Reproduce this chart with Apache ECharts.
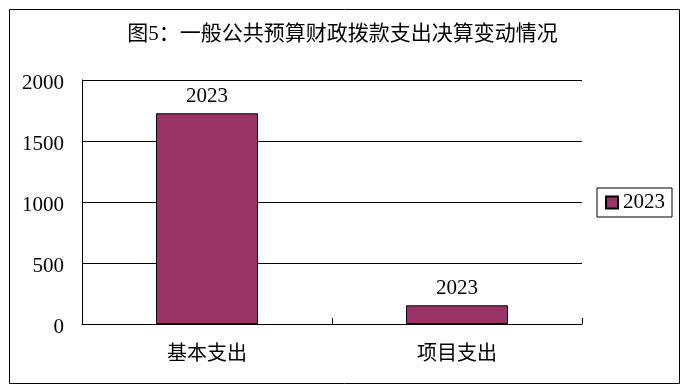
<!DOCTYPE html>
<html><head><meta charset="utf-8">
<script src="https://cdn.jsdelivr.net/npm/echarts@6/dist/echarts.min.js"></script>
<style>html,body{margin:0;padding:0;background:#fff}#c{width:685px;height:389px}</style>
</head><body><div id="c"></div>
<script>
const titleText = '图5：一般公共预算财政拨款支出决算变动情况';
const categories = ['基本支出', '项目支出'];
const seriesName = '2023';
const values = [1727, 153];
const yTicks = [0, 500, 1000, 1500, 2000];

const serif = '"Liberation Serif", "Noto Sans CJK SC", serif';
const chart = echarts.init(document.getElementById('c'), null, {renderer: 'canvas'});
chart.setOption({
  animation: false,
  backgroundColor: '#fff',
  title: {
    text: titleText, left: 'center', top: 19,
    textStyle: {fontFamily: serif, fontSize: 21, fontWeight: 'normal', color: '#000'}
  },
  graphic: [{
    type: 'rect', left: 7, top: 7, silent: true,
    shape: {width: 670, height: 374},
    style: {fill: 'none', stroke: '#000', lineWidth: 1}
  }],
  legend: {
    data: [seriesName], left: 597, top: 188, orient: 'vertical',
    borderColor: '#000', borderWidth: 1, padding: [4, 7, 4, 8],
    itemWidth: 12, itemHeight: 12, itemGap: 0, icon: 'rect',
    textStyle: {fontFamily: serif, fontSize: 21, color: '#000'}
  },
  grid: {left: 82, top: 80, width: 500, height: 244, containLabel: false},
  xAxis: {
    type: 'category', data: categories,
    axisLine: {lineStyle: {color: '#000', width: 1}},
    axisTick: {show: true, inside: true, length: 6, lineStyle: {color: '#000'}},
    axisLabel: {fontFamily: serif, fontSize: 20, color: '#000', margin: 21}
  },
  yAxis: {
    type: 'value', min: yTicks[0], max: yTicks[yTicks.length - 1], interval: 500,
    axisLine: {show: true, lineStyle: {color: '#000', width: 1}},
    axisTick: {show: false},
    splitLine: {show: true, lineStyle: {color: '#000', width: 1}},
    axisLabel: {color: '#000', margin: 18,
      formatter: v => '{n|' + v + '}',
      rich: {n: {fontFamily: serif, fontSize: 21, color: '#000', padding: [6, 0, 0, 0]}}}
  },
  series: [{
    name: seriesName, type: 'bar', data: values, barWidth: 102,
    itemStyle: {color: '#993366', borderColor: '#000', borderWidth: 1},
    label: {show: true, position: 'top', distance: 6, formatter: '{a}',
      fontFamily: serif, fontSize: 21, color: '#000'}
  }]
});
</script></body></html>
